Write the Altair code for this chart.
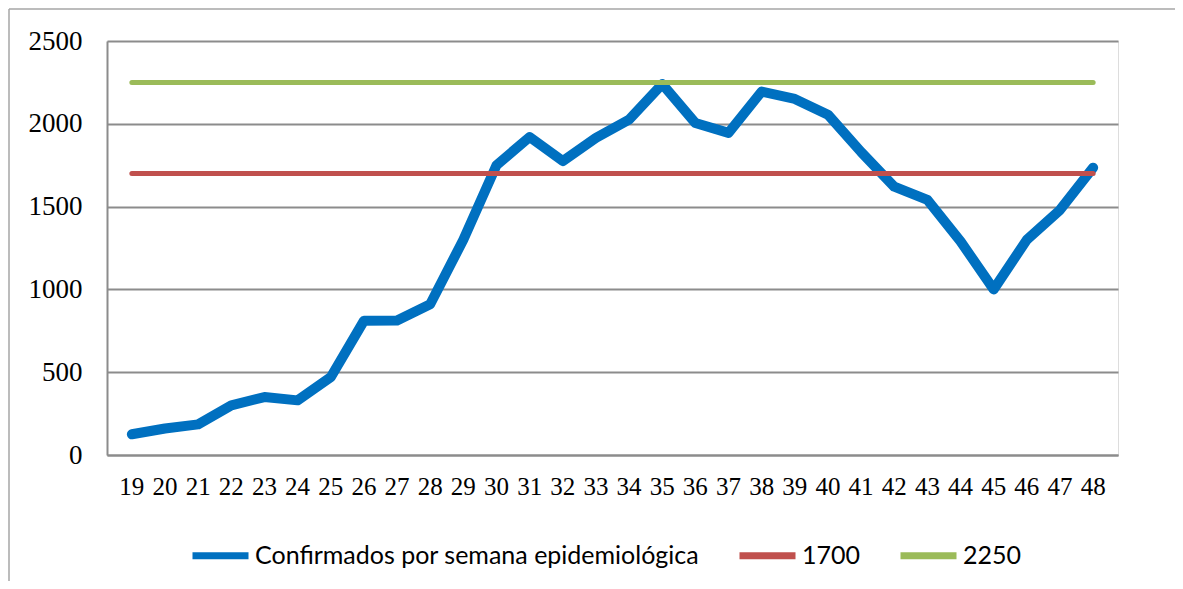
import altair as alt
import pandas as pd

semanas = list(range(19, 49))
confirmados = [125, 160, 185, 300, 350, 330, 470, 810, 812, 910,
               1300, 1750, 1920, 1775, 1915, 2025, 2240, 2005, 1945, 2195,
               2150, 2055, 1830, 1620, 1540, 1290, 1000, 1300, 1480, 1735]
serie_nombre = "Confirmados por semana epidemiológica"
umbrales = [1700, 2250]
umbral_nombres = ["1700", "2250"]
series = [serie_nombre] + umbral_nombres
colores = ["#0070C0", "#C0504D", "#9BBB59"]
y_ticks = [0, 500, 1000, 1500, 2000, 2500]

df_line = pd.DataFrame({"semana": semanas, "valor": confirmados, "serie": serie_nombre})
df_rule = pd.DataFrame({
    "inicio": [semanas[0]] * len(umbrales),
    "fin": [semanas[-1]] * len(umbrales),
    "valor": umbrales,
    "serie": umbral_nombres,
})

color = alt.Color(
    "serie:N",
    scale=alt.Scale(domain=series, range=colores),
    sort=series,
    legend=alt.Legend(
        title=None,
        orient="none",
        legendX=82,
        legendY=483,
        direction="horizontal",
        columns=3,
        symbolType="stroke",
        symbolSize=3136,
        symbolStrokeWidth=7,
        labelOffset=3,
        columnPadding=25,
        labelFont="Lato",
        labelFontSize=25,
        labelColor="#000000",
        labelLimit=0,
        padding=0,
    ),
)

x_scale = alt.Scale(domain=semanas, padding=0.5)
y_scale = alt.Scale(domain=[0, 2500], nice=False)

line = alt.Chart(df_line).mark_line(strokeWidth=10, strokeCap="round", strokeJoin="round").encode(
    x=alt.X("semana:O", scale=x_scale, title=None,
            axis=alt.Axis(labelAngle=0, labelFont="Liberation Serif", labelFontSize=25,
                          labelColor="#000000", ticks=False, domain=True,
                          domainColor="#8c8c8c", domainWidth=2, labelPadding=19, grid=False)),
    y=alt.Y("valor:Q", scale=y_scale, title=None,
            axis=alt.Axis(values=y_ticks, format="d", labelFont="Liberation Serif", labelFontSize=27,
                          labelColor="#000000", ticks=False, domain=True,
                          domainColor="#8c8c8c", domainWidth=2, labelPadding=25,
                          grid=True, gridColor="#8c8c8c", gridWidth=2)),
    color=color,
)

rules = alt.Chart(df_rule).mark_rule(strokeWidth=5, strokeCap="round").encode(
    x=alt.X("inicio:O", scale=x_scale),
    x2="fin:O",
    y=alt.Y("valor:Q", scale=y_scale),
    color=color,
)

frame_top = alt.Chart(pd.DataFrame({"a": [0]})).mark_rule(color="#a6a6a6", strokeWidth=1.5).encode(
    x=alt.value(-98), x2=alt.value(1100), y=alt.value(-32))
frame_left = alt.Chart(pd.DataFrame({"a": [0]})).mark_rule(color="#a6a6a6", strokeWidth=1.5).encode(
    x=alt.value(-98), y=alt.value(-32), y2=alt.value(560))

chart = alt.layer(line, rules, frame_top, frame_left).properties(
    width=1011,
    height=414,
    autosize=alt.AutoSizeParams(type="none"),
    padding={"left": 99, "top": 33, "right": 57, "bottom": 126},
).configure_view(stroke=None).configure(background="white")

chart.save("out.html", embed_options={"renderer": "svg", "actions": False})
